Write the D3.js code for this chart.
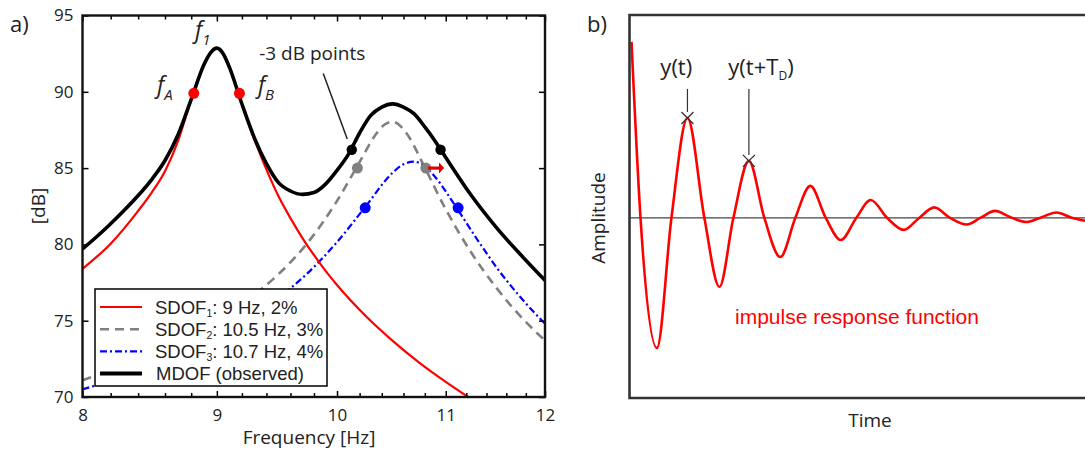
<!DOCTYPE html>
<html><head><meta charset="utf-8">
<script src="https://cdn.jsdelivr.net/npm/d3@7"></script>
<style>
body{margin:0;background:#fff}
svg{display:block}
text{fill:#222}
</style>
</head><body>
<svg id="c" width="1085" height="451" font-family="Open Sans, sans-serif"></svg>
<script>
// ---------- Panel a) data : frequency [Hz] and level [dB] ----------
const sdof1Freq = [8.0, 8.2, 8.4, 8.5, 8.6, 8.7, 8.8, 8.9, 8.95, 9.0, 9.05, 9.1, 9.2, 9.3, 9.4, 9.5, 9.6, 9.7, 9.8, 9.9, 10.0, 10.25, 10.5, 10.75, 11.0, 11.25];
const sdof1Db   = [78.4, 80.05, 82.2, 83.4, 84.8, 86.8, 89.5, 91.75, 92.55, 92.86, 92.5, 91.6, 89.2, 86.9, 84.9, 83.15, 81.72, 80.43, 79.29, 78.27, 77.34, 75.34, 73.68, 72.24, 70.99, 69.86];

const sdof2Freq = [8.0, 8.5, 9.0, 9.25, 9.5, 9.75, 10.0, 10.2, 10.35, 10.42, 10.5, 10.58, 10.65, 10.8, 11.0, 11.25, 11.5, 11.75, 12.0];
const sdof2Db   = [71.1, 72.8, 75.0, 76.4, 78.05, 80.15, 82.85, 85.4, 87.25, 87.82, 88.03, 87.7, 87.05, 85.03, 82.3, 79.45, 77.15, 75.25, 73.7];

const sdof3Freq = [8.0, 8.5, 9.0, 9.25, 9.5, 9.75, 10.0, 10.25, 10.5, 10.6, 10.7, 10.8, 10.9, 11.1, 11.3, 11.5, 11.75, 12.0];
const sdof3Db   = [70.5, 72.0, 73.95, 75.1, 76.5, 78.15, 80.15, 82.45, 84.7, 85.25, 85.42, 85.1, 84.4, 82.45, 80.4, 78.5, 76.5, 74.8];

const mdofFreq = [8.0, 8.1, 8.2, 8.3, 8.4, 8.5, 8.6, 8.7, 8.8, 8.9, 8.95, 9.0, 9.05, 9.1, 9.2, 9.3, 9.4, 9.5, 9.6, 9.7, 9.8, 9.9, 10.0, 10.1, 10.2, 10.3, 10.4, 10.5, 10.6, 10.7, 10.8, 10.9, 11.0, 11.25, 11.5, 11.75, 12.0];
const mdofDb   = [79.7, 80.5, 81.35, 82.25, 83.2, 84.25, 85.5, 87.2, 89.5, 91.8, 92.55, 92.86, 92.5, 91.6, 89.2, 87.0, 85.3, 84.05, 83.5, 83.28, 83.4, 83.95, 84.85, 85.9, 87.3, 88.45, 89.0, 89.21, 89.0, 88.55, 87.7, 86.75, 85.7, 83.2, 81.1, 79.3, 77.64];

// -3 dB points
const redDotFreq = [8.82, 9.18];     const redDotDb = [89.9, 89.9];
const blackDotFreq = [10.13, 10.95]; const blackDotDb = [86.2, 86.2];
const grayDotFreq = [10.18, 10.81];  const grayDotDb = [85.0, 85.0];
const blueDotFreq = [10.25, 11.12];  const blueDotDb = [82.4, 82.4];

const xTickMajor = [8, 9, 10, 11, 12];
const xTickMinor = [8.2,8.4,8.6,8.8,9.2,9.4,9.6,9.8,10.2,10.4,10.6,10.8,11.2,11.4,11.6,11.8];
const yTicks = [70, 75, 80, 85, 90, 95];

const legendNames = ["SDOF", "SDOF", "SDOF", "MDOF (observed)"];
const legendSubs  = ["1", "2", "3", ""];
const legendRest  = [": 9 Hz, 2%", ": 10.5 Hz, 3%", ": 10.7 Hz, 4%", ""];

// ---------- Panel b) data : impulse response ----------
const irTime = [0.033, 0.18, 0.449, 0.686, 0.948, 1.225, 1.471, 1.699, 1.953, 2.206, 2.467, 2.712, 2.958, 3.211, 3.456, 3.709, 3.946, 4.216, 4.485, 4.739, 4.984, 5.245, 5.515, 5.752, 5.98, 6.242, 6.495, 6.732, 6.985, 7.222, 7.467];
const irAmp  = [1.0, 0.0, -0.739, 0.0, 0.568, 0.0, -0.392, 0.0, 0.324, 0.0, -0.222, 0.0, 0.182, 0.0, -0.125, 0.0, 0.102, 0.0, -0.068, 0.0, 0.060, 0.0, -0.037, 0.003, 0.040, 0.003, -0.023, 0.003, 0.031, 0.003, -0.017];
const markTime = [0.948, 1.953];
const markAmp  = [0.568, 0.324];

// ---------- helpers ----------
const svg = d3.select("#c");
function richText(g, x, y, parts, base){
  let cx = x;
  parts.forEach(p=>{
    const t = g.append("text").attr("x", cx).attr("y", y + (p.dy||0))
      .attr("font-size", p.size || base.size)
      .style("font-style", (p.italic || base.italic) ? "italic" : null)
      .style("font-family", base.family || null)
      .text(p.t);
    cx += t.node().getComputedTextLength() + (p.gap||0);
  });
}

// ---------- Panel a ----------
const xL = d3.scaleLog().domain([8, 12]).range([82.5, 545]);
const yL = d3.scaleLinear().domain([70, 95]).range([397, 15.5]);

svg.append("clipPath").attr("id","clipA").append("rect")
  .attr("x", xL(8)).attr("y", yL(95)).attr("width", xL(12)-xL(8)).attr("height", yL(70)-yL(95));

const gA = svg.append("g");
const line = (fr, db) => d3.line().x((d,i)=>xL(fr[i])).y((d,i)=>yL(db[i])).curve(d3.curveMonotoneX)(fr);

const curves = gA.append("g").attr("clip-path","url(#clipA)");
curves.append("path").attr("d", line(sdof2Freq, sdof2Db)).attr("fill","none").attr("stroke","#808080").attr("stroke-width",2.6).attr("stroke-dasharray","9,6");
curves.append("path").attr("d", line(sdof3Freq, sdof3Db)).attr("fill","none").attr("stroke","#0000ff").attr("stroke-width",2.2).attr("stroke-dasharray","7,3,2,3");
curves.append("path").attr("d", line(sdof1Freq, sdof1Db)).attr("fill","none").attr("stroke","#ff0000").attr("stroke-width",2.2);
curves.append("path").attr("d", line(mdofFreq, mdofDb)).attr("fill","none").attr("stroke","#000").attr("stroke-width",3.6);

function dots(fr, db, col, r){
  gA.selectAll(null).data(fr).enter().append("circle")
    .attr("cx",(d,i)=>xL(fr[i])).attr("cy",(d,i)=>yL(db[i])).attr("r",r).attr("fill",col);
}
dots(redDotFreq, redDotDb, "#ff0000", 5.5);
dots(blackDotFreq, blackDotDb, "#000", 5.2);
dots(grayDotFreq, grayDotDb, "#808080", 5.5);
dots(blueDotFreq, blueDotDb, "#0000ff", 5.5);

// red arrow
gA.append("line").attr("x1", xL(10.83)).attr("x2", xL(10.945)).attr("y1", yL(85.0)).attr("y2", yL(85.0))
  .attr("stroke","#e00000").attr("stroke-width",3.2);
gA.append("path").attr("fill","#e00000")
  .attr("d", `M${xL(10.985)},${yL(85.0)} L${xL(10.935)},${yL(85.0)-5.5} L${xL(10.935)},${yL(85.0)+5.5} Z`);

// -3 dB annotation
gA.append("line").attr("x1", xL(9.88)).attr("y1", yL(91.2)).attr("x2", xL(10.09)).attr("y2", yL(86.9))
  .attr("stroke","#222").attr("stroke-width",1.5);
gA.append("text").attr("x", xL(9.34)).attr("y", yL(92.1)).attr("font-size",19).text("-3 dB points");

// f labels
function fLabel(f, v, sub){
  richText(gA, xL(f), yL(v), [{t:"f", size:23}, {t:sub, size:15, dy:7}], {italic:true});
}
fLabel(8.83, 93.55, "1");
fLabel(8.54, 89.9, "A");
fLabel(9.33, 89.9, "B");

// axes (inward ticks)
const tk = 6;
function styleAxis(g){
  g.select(".domain").remove();
  g.selectAll("line").attr("stroke","#000").attr("stroke-width",1.5);
  g.selectAll("text").attr("font-size",17).attr("font-family","Open Sans, sans-serif").attr("fill","#222");
}
gA.append("g").attr("transform",`translate(0,${yL(70)})`)
  .call(d3.axisBottom(xL).tickValues(xTickMajor).tickFormat(d=>d).tickSize(-tk).tickPadding(12)).call(styleAxis);
gA.append("g").attr("transform",`translate(0,${yL(70)})`)
  .call(d3.axisBottom(xL).tickValues(xTickMinor).tickFormat("").tickSize(-4)).call(styleAxis);
gA.append("g").attr("transform",`translate(0,${yL(95)})`)
  .call(d3.axisTop(xL).tickValues(xTickMajor).tickFormat("").tickSize(-tk)).call(styleAxis);
gA.append("g").attr("transform",`translate(0,${yL(95)})`)
  .call(d3.axisTop(xL).tickValues(xTickMinor).tickFormat("").tickSize(-4)).call(styleAxis);
gA.append("g").attr("transform",`translate(${xL(8)},0)`)
  .call(d3.axisLeft(yL).tickValues(yTicks).tickSize(-tk).tickPadding(9)).call(styleAxis);
gA.append("g").attr("transform",`translate(${xL(12)},0)`)
  .call(d3.axisRight(yL).tickValues(yTicks).tickFormat("").tickSize(-tk)).call(styleAxis);

gA.append("rect").attr("x", xL(8)).attr("y", yL(95)).attr("width", xL(12)-xL(8)).attr("height", yL(70)-yL(95))
  .attr("fill","none").attr("stroke","#111").attr("stroke-width",2.4);

gA.append("text").attr("x", 309).attr("y", 444).attr("text-anchor","middle").attr("font-size",19).text("Frequency [Hz]");
gA.append("text").attr("transform","translate(45,206) rotate(-90)").attr("text-anchor","middle").attr("font-size",19).text("[dB]");
gA.append("text").attr("x", 10).attr("y", 32).attr("font-size",22).text("a)");

// legend
const lg = gA.append("g");
lg.append("rect").attr("x",95).attr("y",289).attr("width",232).attr("height",97)
  .attr("fill","#fff").attr("stroke","#000").attr("stroke-width",1.5);
const lgStroke = ["#ff0000","#808080","#0000ff","#000"];
const lgWidth = [2.2, 2.6, 2.2, 4];
const lgDash = [null, "9,6", "7,3,2,3", null];
legendNames.forEach((n,i)=>{
  const y = 307 + i*22.2;
  lg.append("line").attr("x1",100).attr("x2",142).attr("y1",y).attr("y2",y)
    .attr("stroke",lgStroke[i]).attr("stroke-width",lgWidth[i]).attr("stroke-dasharray",lgDash[i]);
  const parts = [{t:n}];
  if (legendSubs[i]) { parts.push({t:legendSubs[i], size:10.5, dy:3}); parts.push({t:legendRest[i]}); }
  richText(lg, i===3?156:155, y+6.5, parts, {size:18.5, family:"'Liberation Sans', Arial, sans-serif"});
});

// ---------- Panel b ----------
const xR = d3.scaleLinear().domain([0, 7.533]).range([629.5, 1090]);
const yR = d3.scaleLinear().domain([-1.023, 1.153]).range([398, 15]);
const gB = svg.append("g");

gB.append("line").attr("x1", xR(0)).attr("x2", 1085).attr("y1", yR(0)).attr("y2", yR(0))
  .attr("stroke","#444").attr("stroke-width",1.3);

gB.append("path")
  .attr("d", d3.line().x((d,i)=>xR(irTime[i])).y((d,i)=>yR(irAmp[i])).curve(d3.curveMonotoneX)(irTime))
  .attr("fill","none").attr("stroke","#ff0000").attr("stroke-width",2.6);

gB.append("path").attr("d", `M1090,${yR(1.153)} L${xR(0)},${yR(1.153)} L${xR(0)},${yR(-1.023)} L1090,${yR(-1.023)}`)
  .attr("fill","none").attr("stroke","#333").attr("stroke-width",2.6);

markTime.forEach((t,i)=>{
  const cx = xR(t), cy = yR(markAmp[i]), s = 6;
  gB.append("path").attr("d", `M${cx-s},${cy-s} L${cx+s},${cy+s} M${cx-s},${cy+s} L${cx+s},${cy-s}`)
    .attr("stroke","#333").attr("stroke-width",1.3);
  gB.append("line").attr("x1",cx).attr("x2",cx).attr("y1", yR(0.733)).attr("y2", cy-6)
    .attr("stroke","#333").attr("stroke-width",1.2);
});
gB.append("text").attr("x", xR(0.505)).attr("y", yR(0.81)).attr("font-size",22).text("y(t)");
richText(gB, xR(1.617), yR(0.81), [{t:"y(t+T"}, {t:"D", size:12, dy:5}, {t:")"}], {size:22});

gB.append("text").attr("x", 735).attr("y", 324).attr("font-size",21)
  .style("font-family","'Liberation Sans', Arial, sans-serif").style("fill","#ff0000").text("impulse response function");
gB.append("text").attr("x", 870).attr("y", 427).attr("text-anchor","middle").attr("font-size",19).text("Time");
gB.append("text").attr("transform","translate(605,218) rotate(-90)").attr("text-anchor","middle").attr("font-size",19).text("Amplitude");
gB.append("text").attr("x", 587).attr("y", 32).attr("font-size",22).text("b)");
</script>
</body></html>
